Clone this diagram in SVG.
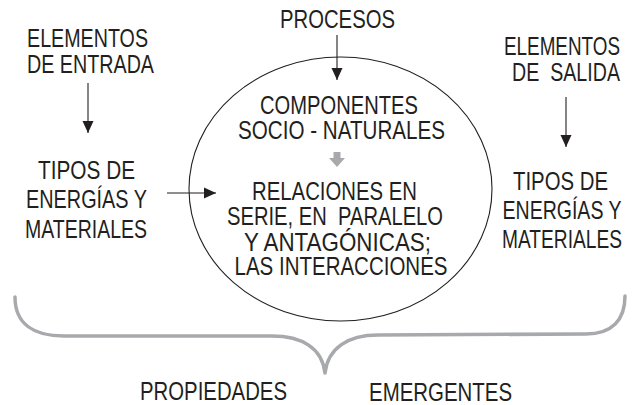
<svg xmlns="http://www.w3.org/2000/svg" width="635" height="405" viewBox="0 0 635 405">
<style>
text{font-family:"Liberation Sans",Arial,sans-serif;font-size:25px;fill:#231f20;text-anchor:middle}
.pre{white-space:pre}
.ln{stroke:#231f20;stroke-width:1.1;fill:none}
.brace{stroke:#a7a9ac;stroke-width:3.5;fill:none;stroke-linecap:round;stroke-linejoin:round}
</style>
<defs>
<marker id="ah" markerUnits="userSpaceOnUse" markerWidth="12" markerHeight="12" viewBox="0 0 12 12" refX="12" refY="6" orient="auto">
<path d="M0,0.5 L12,6 L0,11.5 Z" fill="#231f20"/>
</marker>
</defs>
<rect width="635" height="405" fill="#ffffff"/>

<g id="procesos">
<text transform="translate(337.5,28) scale(0.8,1)" textLength="143.75" lengthAdjust="spacingAndGlyphs">PROCESOS</text>
</g>

<g id="entrada">
<text transform="translate(87.5,47) scale(0.8,1)" textLength="151.25" lengthAdjust="spacingAndGlyphs">ELEMENTOS</text>
<text transform="translate(90.5,73) scale(0.8,1)" textLength="158.75" lengthAdjust="spacingAndGlyphs">DE ENTRADA</text>
</g>

<g id="tipos-entrada">
<text transform="translate(86.5,179) scale(0.8,1)" textLength="121.25" lengthAdjust="spacingAndGlyphs">TIPOS DE</text>
<text transform="translate(86.5,208) scale(0.8,1)" textLength="151.25" lengthAdjust="spacingAndGlyphs">ENERGÍAS Y</text>
<text transform="translate(86,238) scale(0.8,1)" textLength="152.5" lengthAdjust="spacingAndGlyphs">MATERIALES</text>
</g>

<g id="salida">
<text transform="translate(562,55) scale(0.8,1)" textLength="145" lengthAdjust="spacingAndGlyphs">ELEMENTOS</text>
<text class="pre" transform="translate(566,81) scale(0.8,1)" textLength="135" lengthAdjust="spacingAndGlyphs">DE  SALIDA</text>
</g>

<g id="tipos-salida">
<text transform="translate(560.5,190) scale(0.8,1)" textLength="118.75" lengthAdjust="spacingAndGlyphs">TIPOS DE</text>
<text transform="translate(562,219) scale(0.8,1)" textLength="148.75" lengthAdjust="spacingAndGlyphs">ENERGÍAS Y</text>
<text transform="translate(562,248) scale(0.8,1)" textLength="150" lengthAdjust="spacingAndGlyphs">MATERIALES</text>
</g>

<g id="sistema">
<ellipse cx="340.5" cy="189" rx="151.5" ry="132" class="ln"/>
<text transform="translate(339,114) scale(0.8,1)" textLength="197.5" lengthAdjust="spacingAndGlyphs">COMPONENTES</text>
<text transform="translate(341.5,139) scale(0.8,1)" textLength="258.75" lengthAdjust="spacingAndGlyphs">SOCIO - NATURALES</text>
<text transform="translate(334.5,200) scale(0.8,1)" textLength="206.25" lengthAdjust="spacingAndGlyphs">RELACIONES EN</text>
<text class="pre" transform="translate(335,225) scale(0.8,1)" textLength="270" lengthAdjust="spacingAndGlyphs">SERIE, EN  PARALELO</text>
<text transform="translate(337.5,251) scale(0.8,1)" textLength="233.75" lengthAdjust="spacingAndGlyphs">Y ANTAGÓNICAS;</text>
<text transform="translate(341,275) scale(0.8,1)" textLength="266.25" lengthAdjust="spacingAndGlyphs">LAS INTERACCIONES</text>
</g>

<g id="propiedades">
<path class="brace" d="M15,297 C15,324 34,336 64,336 L272,336 C302,336 322,348 325,373 C328,348 348,335 378,335 L586,334 C612,334 625,320 625,296"/>
<text transform="translate(213.5,400) scale(0.8,1)" textLength="183.75" lengthAdjust="spacingAndGlyphs">PROPIEDADES</text>
<text transform="translate(440.5,401) scale(0.8,1)" textLength="178.75" lengthAdjust="spacingAndGlyphs">EMERGENTES</text>
</g>

<g id="connectors">
<line x1="337" y1="35" x2="337" y2="80" class="ln" marker-end="url(#ah)"/>
<line x1="88" y1="83" x2="88" y2="133" class="ln" marker-end="url(#ah)"/>
<line x1="566" y1="97" x2="566" y2="147" class="ln" marker-end="url(#ah)"/>
<line x1="167" y1="193" x2="216" y2="193" class="ln" marker-end="url(#ah)"/>
<path d="M333.5,152 L340.5,152 L340.5,158 L345,158 L337,167 L329,158 L333.5,158 Z" fill="#a7a9ac"/>
</g>
</svg>
